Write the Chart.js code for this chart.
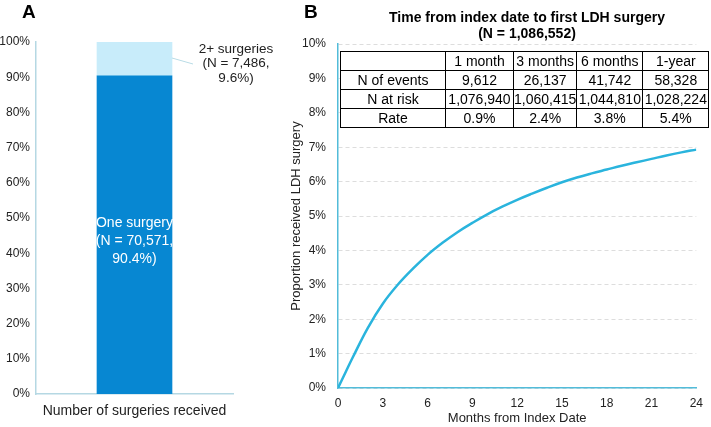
<!DOCTYPE html>
<html>
<head>
<meta charset="utf-8">
<script src="https://cdn.jsdelivr.net/npm/chart.js@4.4.0/dist/chart.umd.min.js"></script>
<style>
  body { margin: 0; background: #fff; font-family: "Liberation Sans", Arial, sans-serif; }
  #wrap { position: relative; width: 711px; height: 427px; overflow: hidden; }
  #boxA { position: absolute; left: 0; top: 0; width: 300px; height: 427px; }
  #boxB { position: absolute; left: 280px; top: 0; width: 431px; height: 427px; }
  .letter { position: absolute; font-weight: bold; font-size: 19px; color: #000; }
  #titleB { position: absolute; left: 380px; width: 294px; top: 9px; text-align: center; font-weight: bold; font-size: 14px; line-height: 16px; color: #000; }
  #tbl { position: absolute; left: 340px; top: 51px; border-collapse: collapse; background: #fff; font-size: 14px; color: #000; }
  #tbl td { border: 1px solid #000; padding: 0; height: 18px; line-height: 18px; text-align: center; white-space: nowrap; }
</style>
</head>
<body>
<div id="wrap">
  <div id="boxA"><canvas id="chartA"></canvas></div>
  <div id="boxB"><canvas id="chartB"></canvas></div>
  <div class="letter" style="left:22px; top:1px;">A</div>
  <div class="letter" style="left:304px; top:1px;">B</div>
  <div id="titleB">Time from index date to first LDH surgery<br>(N = 1,086,552)</div>
  <table id="tbl"></table>
</div>
<script>
// painel A - numero de cirurgias
var categoriasA = ['Number of surgeries received'];
var umaCirurgia = [90.4];
var duasMais = [9.6];
var textoUma = ['One surgery', '(N = 70,571,', '90.4%)'];
var textoDuas = ['2+ surgeries', '(N = 7,486,', '9.6%)'];

// painel B - curva de incidencia acumulada
var meses = [0, 0.5, 1, 2, 3, 4, 5, 6, 7, 8, 9, 10, 11, 12, 13, 14, 15, 16, 17, 18, 19, 20, 21, 22, 23, 24];
var proporcao = [0, 0.45, 0.9, 1.75, 2.45, 3.0, 3.46, 3.87, 4.22, 4.53, 4.8, 5.05, 5.27, 5.47, 5.65, 5.82, 5.98, 6.12, 6.24, 6.35, 6.46, 6.56, 6.66, 6.76, 6.85, 6.93];

// tabela
var colunasTabela = ['', '1 month', '3 months', '6 months', '1-year'];
var nEventos = ['9,612', '26,137', '41,742', '58,328'];
var nRisco = ['1,076,940', '1,060,415', '1,044,810', '1,028,224'];
var taxa = ['0.9%', '2.4%', '3.8%', '5.4%'];
var largurasColunas = [104, 67, 60, 65, 65];

var fonte = '"Liberation Sans", Arial, sans-serif';
Chart.defaults.font.family = fonte;
Chart.defaults.color = '#222';

// monta a tabela
var tbl = document.getElementById('tbl');
var linhas = [colunasTabela, ['N of events'].concat(nEventos), ['N at risk'].concat(nRisco), ['Rate'].concat(taxa)];
linhas.forEach(function (linha) {
    var tr = document.createElement('tr');
    linha.forEach(function (c, i) {
        var td = document.createElement('td');
        td.textContent = c;
        td.style.width = largurasColunas[i] + 'px';
        tr.appendChild(td);
    });
    tbl.appendChild(tr);
});

// textos dentro/ao lado da barra
var rotulosBarra = {
    id: 'rotulosBarra',
    afterDatasetsDraw: function (chart) {
        var ctx = chart.ctx;
        var barraUma = chart.getDatasetMeta(0).data[0];
        var barraDuas = chart.getDatasetMeta(1).data[0];
        ctx.save();
        ctx.font = '14px ' + fonte;
        ctx.textAlign = 'center';
        ctx.textBaseline = 'middle';
        ctx.fillStyle = '#fff';
        var meio = (barraUma.y + barraUma.base) / 2 + 6;
        textoUma.forEach(function (t, i) {
            ctx.fillText(t, barraUma.x, meio + (i - 1) * 18);
        });
        // linha guia
        var dir = barraDuas.x + barraDuas.width / 2;
        ctx.strokeStyle = '#b9dce6';
        ctx.lineWidth = 1;
        ctx.beginPath();
        ctx.moveTo(dir, barraDuas.y + 16);
        ctx.lineTo(dir + 21, barraDuas.y + 22);
        ctx.stroke();
        ctx.font = '13.5px ' + fonte;
        ctx.fillStyle = '#222';
        textoDuas.forEach(function (t, i) {
            ctx.fillText(t, dir + 64, barraDuas.y + 7 + i * 14.5);
        });
        ctx.restore();
    }
};

var ctxA = document.getElementById('chartA').getContext('2d');
var graficoA = new Chart(ctxA, {
    type: 'bar',
    data: {
        labels: categoriasA,
        datasets: [{
            label: 'One surgery',
            data: umaCirurgia,
            backgroundColor: '#0787d2',
            barThickness: 75
        }, {
            label: '2+ surgeries',
            data: duasMais,
            backgroundColor: '#c8ecfa',
            barThickness: 75
        }]
    },
    options: {
        responsive: true,
        maintainAspectRatio: false,
        animation: false,
        layout: { padding: { top: 42, right: 67, bottom: 0, left: 0 } },
        scales: {
            x: {
                stacked: true,
                grid: { display: false, drawTicks: false },
                border: { color: '#b5d8e3', width: 1.5 },
                ticks: { padding: 9, color: '#222', font: { size: 14 } },
                afterFit: function (s) { s.height = 33; }
            },
            y: {
                stacked: true,
                min: 0,
                max: 100,
                grid: { display: false, drawTicks: false },
                border: { color: '#b5d8e3', width: 1.5 },
                ticks: {
                    stepSize: 10,
                    padding: 6,
                    color: '#222',
                    font: { size: 12 },
                    callback: function (v) { return v + '%'; }
                },
                afterFit: function (s) { s.width = 36; }
            }
        },
        plugins: {
            legend: { display: false },
            tooltip: { enabled: false }
        }
    },
    plugins: [rotulosBarra]
});

var ctxB = document.getElementById('chartB').getContext('2d');
var graficoB = new Chart(ctxB, {
    type: 'line',
    data: {
        datasets: [{
            label: 'Proportion received LDH surgery',
            data: meses.map(function (m, i) { return { x: m, y: proporcao[i] }; }),
            borderColor: '#2ab4dd',
            borderWidth: 2.5,
            pointRadius: 0,
            tension: 0.4,
            fill: false
        }]
    },
    options: {
        responsive: true,
        maintainAspectRatio: false,
        animation: false,
        layout: { padding: { top: 44, right: 14, bottom: 0, left: 0 } },
        scales: {
            x: {
                type: 'linear',
                min: 0,
                max: 24,
                grid: { display: false, drawTicks: false },
                border: { color: '#52bcd9', width: 1.5 },
                ticks: { stepSize: 3, padding: 8, color: '#222', font: { size: 12 } },
                title: {
                    display: true,
                    text: 'Months from Index Date',
                    color: '#222',
                    font: { size: 13 },
                    padding: { top: 0, bottom: 1 }
                },
                afterFit: function (s) { s.height = 39; }
            },
            y: {
                min: 0,
                max: 10,
                grid: { color: '#dddddd', drawTicks: false },
                border: { color: '#52bcd9', width: 1.5, dash: [4, 3] },
                ticks: {
                    stepSize: 1,
                    padding: 12,
                    color: '#222',
                    font: { size: 12 },
                    callback: function (v) { return v + '%'; }
                },
                title: {
                    display: true,
                    text: 'Proportion received LDH surgery',
                    color: '#222',
                    font: { size: 13 },
                    padding: { top: 9, bottom: 0 }
                },
                afterFit: function (s) { s.width = 58; }
            }
        },
        plugins: {
            legend: { display: false },
            tooltip: { enabled: false }
        }
    }
});
</script>
</body>
</html>
